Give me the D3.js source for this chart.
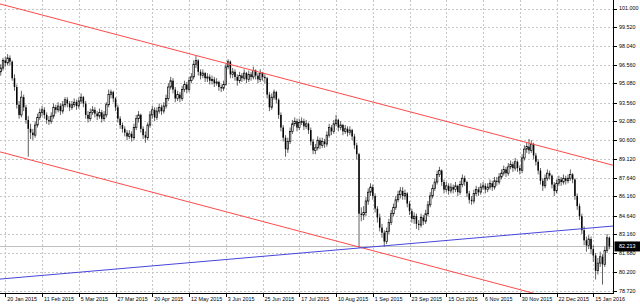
<!DOCTYPE html>
<html>
<head>
<meta charset="utf-8">
<script src="https://cdn.jsdelivr.net/npm/d3@7"></script>
<style>
  html, body { margin: 0; padding: 0; background: #fff; }
  svg { display: block; font-family: 'Liberation Sans', Arial, sans-serif; }
</style>
</head>
<body>
<div id="chart"></div>
<script>
// Daily bars, the first one sits two bars before the 20 Jan 2015 label.
const firstBar = -2;
const firstOpen = 96.0;

const closes = [
  96.3, 96.9, 96.7, 97.1, 96.8, 95.5, 94.8, 93.4, 92.6, 94.0,
  93.2, 92.2, 91.5, 91.2, 91.0, 91.8, 92.4, 92.8, 93.0, 92.6,
  92.2, 92.1, 92.5, 93.2, 93.0, 93.3, 92.9, 93.4, 93.8, 93.5,
  93.2, 93.4, 93.6, 93.3, 93.7, 94.0, 93.5, 92.6, 92.3, 92.8,
  93.0, 92.7, 92.5, 92.8, 92.3, 92.6, 93.4, 94.2, 94.4, 93.9,
  93.2, 92.3, 91.8, 91.5, 91.2, 90.9, 91.1, 90.8, 91.6, 92.3,
  92.6, 91.5, 91.0, 90.8, 91.8, 92.6, 93.0, 92.4, 92.9, 93.2,
  92.9, 93.3, 93.9, 94.8, 95.3, 94.6, 93.9, 94.2, 93.9, 94.6,
  95.0, 94.6, 95.3, 95.6, 96.6, 96.9, 96.0, 95.7, 95.9, 95.5,
  95.6, 95.3, 95.4, 95.1, 95.2, 94.8, 94.7, 95.0, 96.4, 96.8,
  95.8, 96.0, 95.6, 95.3, 95.7, 95.5, 95.9, 95.4, 95.8, 95.6,
  96.1, 95.7, 95.4, 95.9, 95.6, 95.5, 94.2, 93.2, 94.0, 94.4,
  93.8, 92.6, 91.6, 90.8, 89.9, 90.5, 91.3, 91.9, 92.1, 91.6,
  92.0, 92.1, 91.7, 91.9, 91.4, 90.5, 89.8, 90.0, 90.6, 90.2,
  90.5, 90.3, 91.0, 91.6, 91.3, 91.9, 92.2, 91.6, 91.8, 91.3,
  91.5, 91.2, 91.4, 90.9, 90.2, 89.5, 84.8, 84.7, 84.9, 85.8,
  86.5, 86.9, 86.2, 85.2, 84.5, 83.7, 83.3, 82.6, 83.4, 84.1,
  84.8, 85.3, 85.9, 86.3, 86.6, 86.2, 86.4, 85.6, 85.0, 84.4,
  84.6, 84.0, 83.9, 84.5, 84.2, 84.8, 85.5, 86.2, 86.8, 87.3,
  87.9, 88.2, 87.3, 86.7, 87.0, 86.6, 86.9, 86.7, 87.0, 86.5,
  87.1, 87.6, 87.3, 86.4, 85.9, 85.8, 86.4, 86.7, 86.5, 86.9,
  87.0, 86.7, 86.9, 87.2, 86.9, 87.4, 87.3, 87.7, 88.0, 88.3,
  88.0, 88.5, 88.7, 88.4, 88.9, 88.4, 88.2, 89.2, 89.9, 90.1,
  89.8, 90.3, 89.4, 88.9, 88.2, 87.4, 87.0, 87.6, 88.0, 87.8,
  87.1, 86.6, 87.2, 87.5, 87.3, 87.6, 87.4, 87.6, 87.9, 87.5,
  86.2, 85.4, 84.6, 83.5, 82.7, 82.3, 82.8, 82.0, 81.5, 80.3,
  80.9, 81.4, 80.8, 81.9, 82.9, 82.213,
];

const highs = [
  96.6, 97.1, 97.2, 97.4, 97.3, 96.9, 95.8, 95.0, 93.7, 94.5,
  94.2, 93.4, 92.5, 91.9, 91.5, 92.1, 92.7, 93.1, 93.3, 93.2,
  92.8, 92.5, 92.8, 93.5, 93.4, 93.6, 93.5, 93.7, 94.0, 94.0,
  93.7, 93.7, 93.9, 93.8, 94.0, 94.3, 94.1, 93.7, 92.9, 93.1,
  93.3, 93.2, 92.9, 93.1, 93.0, 92.9, 93.6, 94.6, 94.6, 94.5,
  94.0, 93.4, 92.5, 92.0, 91.7, 91.4, 91.4, 91.3, 91.9, 92.6,
  92.9, 92.7, 91.7, 91.3, 92.0, 92.9, 93.3, 93.2, 93.2, 93.5,
  93.4, 93.6, 94.2, 95.1, 95.6, 95.5, 94.8, 94.5, 94.4, 94.9,
  95.3, 95.2, 95.6, 95.9, 96.9, 97.3, 97.0, 96.2, 96.2, 96.0,
  95.9, 95.8, 95.7, 95.6, 95.5, 95.3, 95.0, 95.3, 96.6, 97.0,
  96.9, 96.3, 96.2, 95.8, 96.0, 95.9, 96.2, 96.0, 96.1, 96.0,
  96.4, 96.2, 95.9, 96.2, 96.0, 95.8, 95.6, 94.4, 94.3, 94.6,
  94.5, 93.9, 92.8, 91.8, 91.0, 90.8, 91.6, 92.2, 92.4, 92.3,
  92.3, 92.4, 92.3, 92.2, 92.0, 91.6, 90.7, 90.3, 90.9, 90.8,
  90.8, 90.7, 91.3, 91.9, 91.8, 92.2, 92.6, 92.3, 92.1, 91.9,
  91.8, 91.7, 91.7, 91.5, 91.1, 90.4, 89.6, 85.3, 85.4, 86.1,
  86.8, 87.2, 87.1, 86.4, 85.4, 84.8, 84.0, 83.5, 83.7, 84.4,
  85.1, 85.6, 86.2, 86.6, 86.9, 86.9, 86.7, 86.5, 85.8, 85.2,
  84.9, 84.8, 84.3, 84.8, 84.7, 85.1, 85.8, 86.5, 87.1, 87.6,
  88.2, 88.5, 88.3, 87.5, 87.3, 87.2, 87.2, 87.1, 87.3, 87.1,
  87.4, 87.9, 87.8, 87.4, 86.6, 86.2, 86.7, 87.0, 86.9, 87.2,
  87.3, 87.2, 87.2, 87.5, 87.4, 87.7, 87.7, 88.0, 88.3, 88.6,
  88.5, 88.8, 89.0, 88.9, 89.2, 89.0, 88.6, 89.5, 90.2, 90.4,
  90.7, 90.6, 90.4, 89.6, 89.1, 88.4, 87.6, 87.9, 88.3, 88.2,
  87.9, 87.3, 87.5, 87.8, 87.7, 87.9, 87.8, 87.9, 88.3, 88.0,
  87.6, 86.4, 85.6, 84.8, 83.8, 83.0, 83.1, 83.0, 82.3, 81.7,
  81.3, 81.8, 81.6, 82.2, 83.2, 83.0,
];

const lows = [
  95.7, 96.1, 96.4, 96.5, 96.5, 95.3, 94.5, 93.1, 92.3, 92.4,
  92.9, 91.9, 89.3, 90.7, 90.6, 90.8, 91.6, 92.2, 92.5, 92.3,
  91.9, 91.8, 91.9, 92.3, 92.7, 92.8, 92.6, 92.7, 93.2, 93.2,
  92.9, 93.0, 93.2, 93.0, 93.1, 93.5, 93.2, 92.3, 92.0, 92.1,
  92.6, 92.4, 92.2, 92.3, 92.0, 92.1, 92.4, 93.2, 93.9, 93.6,
  92.9, 92.0, 91.5, 91.2, 90.9, 90.6, 90.7, 90.5, 90.6, 91.4,
  92.0, 91.2, 90.7, 90.4, 90.6, 91.6, 92.3, 92.1, 92.2, 92.7,
  92.6, 92.7, 93.1, 93.7, 94.6, 94.3, 93.6, 93.7, 93.6, 93.7,
  94.4, 94.3, 94.4, 95.1, 95.4, 96.3, 95.7, 95.4, 95.5, 95.2,
  95.2, 95.0, 95.0, 94.8, 94.9, 94.5, 94.4, 94.5, 94.9, 96.2,
  95.5, 95.5, 95.3, 94.9, 95.1, 95.2, 95.3, 95.1, 95.2, 95.3,
  95.4, 95.4, 95.1, 95.2, 95.3, 95.1, 93.9, 92.9, 93.0, 93.8,
  93.5, 92.3, 91.3, 90.5, 89.3, 89.6, 90.3, 91.1, 91.7, 91.3,
  91.4, 91.8, 91.4, 91.5, 91.1, 90.2, 89.5, 89.5, 89.8, 89.9,
  90.0, 90.0, 90.1, 90.8, 91.0, 91.1, 91.7, 91.3, 91.4, 91.0,
  91.1, 90.9, 91.0, 90.6, 89.9, 89.1, 82.1, 84.2, 84.3, 84.6,
  85.5, 86.2, 85.9, 84.9, 84.1, 83.4, 82.9, 82.2, 82.4, 83.2,
  83.9, 84.6, 85.1, 85.7, 86.0, 85.9, 85.9, 85.3, 84.7, 84.1,
  84.0, 83.6, 83.5, 83.7, 83.9, 84.0, 84.6, 85.3, 86.0, 86.6,
  87.1, 87.7, 87.0, 86.4, 86.5, 86.3, 86.4, 86.4, 86.5, 86.2,
  86.3, 86.9, 87.0, 86.1, 85.6, 85.5, 85.6, 86.2, 86.2, 86.3,
  86.7, 86.4, 86.5, 86.7, 86.6, 86.7, 87.0, 87.1, 87.5, 87.8,
  87.7, 87.8, 88.3, 88.1, 88.2, 88.1, 87.9, 88.0, 89.0, 89.6,
  89.5, 89.6, 89.1, 88.6, 87.9, 87.1, 86.6, 86.8, 87.4, 87.5,
  86.8, 86.2, 86.4, 87.0, 87.0, 87.1, 87.1, 87.2, 87.4, 87.2,
  85.9, 85.1, 84.3, 83.2, 82.3, 81.8, 82.0, 81.6, 81.0, 79.6,
  80.0, 80.6, 79.2, 80.6, 81.7, 82.0,
];

// Time axis labels and the bar each one belongs to.
const dateLabels = [
  '20 Jan 2015', '11 Feb 2015', '5 Mar 2015', '27 Mar 2015', '20 Apr 2015',
  '12 May 2015', '3 Jun 2015', '25 Jun 2015', '17 Jul 2015', '10 Aug 2015',
  '1 Sep 2015', '23 Sep 2015', '15 Oct 2015', '6 Nov 2015', '30 Nov 2015',
  '22 Dec 2015', '15 Jan 2016',
];
const dateBars = [0, 16, 32, 48, 64, 80, 96, 112, 128, 144, 160, 176, 192, 208, 224, 240, 256];

// Price axis labels, top to bottom.
const priceTicks = [
  101.000, 99.520, 98.040, 96.560, 95.080, 93.560, 92.080, 90.600,
  89.120, 87.640, 86.160, 84.640, 83.160, 81.680, 80.200, 78.720,
];

const lastPrice = 82.213;

// Trendlines as two anchors (bar, price); they are extended across the chart.
const channelTop = [{ bar: 83, price: 97.29 }, { bar: 228, price: 90.37 }];
const channelBottom = [{ bar: 0, price: 89.57 }, { bar: 154, price: 82.17 }];
const supportLine = [{ bar: 154, price: 82.09 }, { bar: 263, price: 83.8 }];

/**
 * Builds the candle list from the close/high/low arrays. Each open is the
 * previous close, as on a forex daily chart.
 */
function buildBars() {
  return closes.map((c, i) => ({
    bar: firstBar + i,
    open: i === 0 ? firstOpen : closes[i - 1],
    high: highs[i],
    low: lows[i],
    close: c,
  }));
}

/**
 * Draws the chart into the target node.
 */
function buildChart(targetNode) {
  const imageWidth = 640;
  const imageHeight = 304;
  const plotRight = 613.5;
  const plotBottom = 293.5;
  const fontSize = 5.4;

  const bars = buildBars();

  const x = d3.scaleLinear()
    .domain([dateBars[0], dateBars[dateBars.length - 1]])
    .range([5.3, 593.3]);

  const y = d3.scaleLinear()
    .domain([priceTicks[priceTicks.length - 1], priceTicks[0]])
    .range([290.7, 8.5]);

  const svg = d3.select(targetNode).append('svg')
    .attr('width', imageWidth)
    .attr('height', imageHeight);

  svg.append('rect')
    .attr('width', imageWidth)
    .attr('height', imageHeight)
    .attr('fill', '#fff');

  svg.append('clipPath')
    .attr('id', 'plot')
    .append('rect')
    .attr('width', plotRight)
    .attr('height', plotBottom);

  // Dotted grid.
  const grid = svg.append('g')
    .attr('stroke', '#c6c6c6')
    .attr('stroke-dasharray', '2,2')
    .attr('shape-rendering', 'crispEdges');
  grid.selectAll('.hgrid')
    .data(priceTicks)
    .join('line')
    .attr('x1', 0)
    .attr('x2', plotRight)
    .attr('y1', (d) => Math.round(y(d)) + 0.5)
    .attr('y2', (d) => Math.round(y(d)) + 0.5);
  grid.selectAll('.vgrid')
    .data(dateBars)
    .join('line')
    .attr('x1', (d) => Math.round(x(d)) + 0.5)
    .attr('x2', (d) => Math.round(x(d)) + 0.5)
    .attr('y1', 0)
    .attr('y2', plotBottom);

  // Bid line.
  svg.append('line')
    .attr('x1', 0)
    .attr('x2', plotRight)
    .attr('y1', Math.round(y(lastPrice)) + 0.5)
    .attr('y2', Math.round(y(lastPrice)) + 0.5)
    .attr('stroke', '#c0c0c0');

  // Candles.
  const bodyWidth = 1.5;
  const candle = svg.append('g').attr('clip-path', 'url(#plot)')
    .selectAll('g')
    .data(bars)
    .join('g');
  candle.append('line')
    .attr('x1', (d) => x(d.bar))
    .attr('x2', (d) => x(d.bar))
    .attr('y1', (d) => y(d.high))
    .attr('y2', (d) => y(d.low))
    .attr('stroke', '#3a3a3a')
    .attr('stroke-width', 0.8);
  candle.append('rect')
    .attr('x', (d) => x(d.bar) - bodyWidth / 2)
    .attr('width', bodyWidth)
    .attr('y', (d) => y(Math.max(d.open, d.close)))
    .attr('height', (d) => Math.max(0.8, Math.abs(y(d.open) - y(d.close))))
    .attr('fill', (d) => (d.close >= d.open ? '#fff' : '#000'))
    .attr('stroke', '#000')
    .attr('stroke-width', (d) => (d.close >= d.open ? 0.7 : 0));

  // Trendlines, extended from the left edge to the price axis.
  const lines = [
    { anchors: channelTop, color: '#ff4a4a' },
    { anchors: channelBottom, color: '#ff4a4a' },
    { anchors: supportLine, color: '#4646dc' },
  ];
  const barLeft = x.invert(0);
  const barRight = x.invert(plotRight);
  svg.append('g').attr('clip-path', 'url(#plot)')
    .selectAll('line')
    .data(lines)
    .join('line')
    .each(function drawLine(d) {
      const [a, b] = d.anchors;
      const slope = (b.price - a.price) / (b.bar - a.bar);
      const priceAt = (bar) => a.price + slope * (bar - a.bar);
      d3.select(this)
        .attr('x1', x(barLeft))
        .attr('y1', y(priceAt(barLeft)))
        .attr('x2', x(barRight))
        .attr('y2', y(priceAt(barRight)));
    })
    .attr('stroke', (d) => d.color)
    .attr('stroke-width', 1);

  // Axes frame.
  svg.append('path')
    .attr('d', `M${plotRight},0V${plotBottom}H0`)
    .attr('fill', 'none')
    .attr('stroke', '#000')
    .attr('shape-rendering', 'crispEdges');

  // Price axis.
  const priceAxis = svg.append('g');
  priceAxis.selectAll('line')
    .data(priceTicks)
    .join('line')
    .attr('x1', plotRight)
    .attr('x2', plotRight + 3)
    .attr('y1', (d) => Math.round(y(d)) + 0.5)
    .attr('y2', (d) => Math.round(y(d)) + 0.5)
    .attr('stroke', '#000')
    .attr('shape-rendering', 'crispEdges');
  priceAxis.selectAll('text')
    .data(priceTicks)
    .join('text')
    .attr('x', 619)
    .attr('y', (d) => y(d))
    .attr('dy', '0.35em')
    .attr('font-size', fontSize)
    .attr('fill', '#000')
    .text((d) => d3.format('.3f')(d));

  // Last price tag.
  svg.append('rect')
    .attr('x', plotRight + 1)
    .attr('y', y(lastPrice) - 5)
    .attr('width', imageWidth - plotRight)
    .attr('height', 10)
    .attr('fill', '#000');
  svg.append('text')
    .attr('x', 619)
    .attr('y', y(lastPrice))
    .attr('dy', '0.35em')
    .attr('font-size', fontSize)
    .attr('fill', '#fff')
    .text(d3.format('.3f')(lastPrice));

  // Time axis.
  const timeAxis = svg.append('g');
  timeAxis.selectAll('line')
    .data(dateBars)
    .join('line')
    .attr('x1', (d) => Math.round(x(d)) + 0.5)
    .attr('x2', (d) => Math.round(x(d)) + 0.5)
    .attr('y1', plotBottom)
    .attr('y2', plotBottom + 3)
    .attr('stroke', '#000')
    .attr('shape-rendering', 'crispEdges');
  timeAxis.selectAll('text')
    .data(dateBars)
    .join('text')
    .attr('x', (d) => x(d) + 2)
    .attr('y', 300.5)
    .attr('font-size', fontSize)
    .attr('fill', '#000')
    .text((d, i) => dateLabels[i]);
}

buildChart(document.getElementById('chart'));
</script>
</body>
</html>
